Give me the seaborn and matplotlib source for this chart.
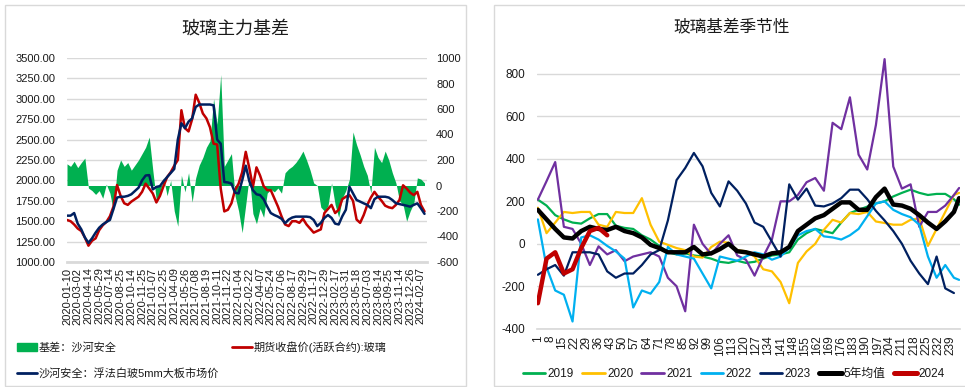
import numpy as np
import pandas as pd
import seaborn as sns
import matplotlib.pyplot as plt
from matplotlib.patches import Patch, Rectangle
from matplotlib.lines import Line2D

## data: left chart (glass main basis), one value every 10 trading days
day_idx = np.arange(0, 1001, 10)

date_labels = ['2020-01-10', '2020-03-02', '2020-04-14', '2020-05-29', '2020-07-14',
               '2020-08-25', '2020-10-14', '2020-11-25', '2021-01-07', '2021-02-25',
               '2021-04-09', '2021-05-26', '2021-07-08', '2021-08-19', '2021-10-11',
               '2021-11-22', '2022-01-04', '2022-02-22', '2022-04-07', '2022-05-24',
               '2022-07-06', '2022-08-17', '2022-09-29', '2022-11-17', '2022-12-29',
               '2023-02-17', '2023-03-31', '2023-05-18', '2023-07-03', '2023-08-14',
               '2023-09-25', '2023-11-14', '2023-12-26', '2024-02-07']
date_pos = np.arange(0, 991, 30)

spot_price = [1568, 1568, 1600, 1470, 1400, 1300, 1235, 1290, 1360, 1420,
              1460, 1490, 1515, 1650, 1790, 1800, 1800, 1810, 1830, 1870,
              1910, 2000, 2060, 2065, 1890, 1920, 1930, 1990, 2040, 2090,
              2140, 2500, 2700, 2640, 2720, 2760, 2900, 2930, 2930, 2930,
              2930, 2920, 2500, 2450, 1980, 1975, 1960, 1850, 1840, 2000,
              2180, 1990, 1880, 1830, 1820, 1770, 1680, 1600, 1575, 1556,
              1530, 1475, 1520, 1545, 1556, 1556, 1556, 1556, 1550, 1515,
              1440, 1480, 1540, 1576, 1540, 1470, 1460, 1560, 1640, 1923,
              1841, 1760, 1740, 1719, 1700, 1660, 1770, 1800, 1800, 1800,
              1790, 1760, 1720, 1710, 1700, 1690, 1678, 1700, 1719, 1658,
              1590]

futures_price = [1515, 1500, 1460, 1410, 1380, 1300, 1200, 1260, 1290, 1390,
                 1450, 1490, 1560, 1680, 1943, 1810, 1720, 1700, 1740, 1770,
                 1800, 1860, 1960, 1900, 1840, 1730, 1810, 1930, 2040, 2100,
                 2180, 2250, 2860, 2640, 2600, 2750, 3050, 2950, 2820, 2760,
                 2650, 2450, 2440, 1900, 1620, 1640, 1720, 1880, 1960, 2100,
                 2350, 2150, 1920, 2160, 2060, 1930, 1880, 1880, 1780, 1680,
                 1560, 1460, 1440, 1500, 1500, 1480, 1530, 1460, 1410, 1360,
                 1380, 1400, 1600, 1650, 1700, 1600, 1640, 1770, 1800, 1820,
                 1750, 1520, 1480, 1576, 1700, 1790, 1860, 1800, 1750, 1690,
                 1670, 1660, 1700, 1760, 1940, 1900, 1850, 1820, 1860, 1700,
                 1620]

basis = [170, 150, 190, 140, 180, 215, -20, -40, -70, -40,
         -100, 10, -60, -200, 120, 200, 150, 180, 120, 160,
         200, 250, 300, 380, 120, -120, -60, 60, -80, 40,
         -200, -320, 80, -50, 100, -130, 60, 160, 220, 300,
         350, 680, 480, 870, 150, 200, 250, -80, -200, -370,
         -150, 80, -220, -300, -180, -250, -60, -30, -50, -20,
         -60, 100, 130, 150, 180, 220, 270, 200, 120, 20,
         0, -170, -200, -160, 20, -150, -250, -100, -40, 50,
         420, 320, 240, 150, 80, -60, 300, 220, 180, 270,
         200, 100, 20, -120, -150, -280, -200, -140, 60, 50,
         20]

## data: right chart (basis seasonality), one value every 5 days
days = list(range(1, 242, 5)) + [244]
nan = np.nan

s2019 = [208, 180, 135, 115, 100, 95, 120, 140, 140, 85,
         75, 70, 40, 20, -10, -40, -50, -45, -55, -60,
         -70, -85, -90, -80, -90, -85, -70, -55, -50, -40,
         20, 50, 70, 60, 50, 100, 145, 160, 175, 190,
         200, 223, 240, 255, 240, 230, 235, 235, 210, 184]
s2020 = [170, 50, 100, 150, 145, 150, 150, 90, 80, 150,
         145, 145, 215, 90, 10, -5, -20, -30, -60, -65,
         -15, 10, 5, -30, -35, -60, -120, -130, -180, -280,
         -90, -36, 0, 66, 113, 100, 145, 140, 150, 105,
         98, 90, 90, 113, 120, -10, 70, 150, 230, 240]
s2021 = [208, 295, 385, 80, 70, 0, -100, -12, -50, -30,
         -82, -60, -50, -40, -60, -160, -200, -318, 90, 0,
         -50, 0, 40, -55, -75, -150, -60, 20, 200, 200,
         230, 290, 310, 250, 570, 540, 690, 420, 350, 560,
         870, 364, 260, 280, 80, 150, 150, 180, 230, 263]
s2022 = [115, -110, -220, -240, -366, 30, 40, 20, -10, -36,
         -70, -300, -220, -235, -180, -15, -50, -60, -70, -140,
         -210, -60, -70, -80, -60, -40, -50, -75, -60, -20,
         40, 60, 70, 35, 30, 20, 40, 70, 130, 190,
         200, 160, 140, 125, 90, -60, -160, -100, -160, -170]
s2023 = [-146, -120, -100, -150, -40, -40, -40, -50, -130, -160,
         -140, -140, -100, -50, -30, 110, 300, 357, 428, 365,
         240, 176, 294, 250, 190, 100, 80, 10, -60, 280,
         208, 260, 180, 176, 190, 215, 255, 255, 210, 155,
         110, 60, 0, -80, -140, -190, -60, -210, -232, nan]
s5yr = [160, 115, 70, 30, 25, 60, 80, 70, 65, 80,
        60, 50, 30, -5, -20, -40, -40, -40, -15, -50,
        -45, -25, 0, -35, -40, -50, -60, -45, -40, -15,
        60, 90, 120, 135, 165, 195, 195, 160, 160, 220,
        260, 185, 180, 165, 135, 100, 70, 106, 150, 215]
s2024 = [-280, -70, -40, -140, -120, -20, 60, 75, 40] + [nan] * 41

season_names = ['2019', '2020', '2021', '2022', '2023', '5年均值', '2024']
season_values = [s2019, s2020, s2021, s2022, s2023, s5yr, s2024]
season_colors = ['#00B050', '#FFC000', '#7030A0', '#00B0F0', '#002060', '#000000', '#C00000']
season_widths = [1.6, 1.6, 1.6, 1.6, 1.6, 3.2, 3.2]

## style
sns.set_theme(style='white')
plt.rcParams['font.family'] = ['Liberation Sans', 'Noto Sans CJK SC', 'DejaVu Sans']
plt.rcParams['axes.unicode_minus'] = False
grid_col = '#D9D9D9'
txt_col = '#1a1a1a'

W, H = 965, 387
fig = plt.figure(figsize=(W / 100, H / 100), dpi=100)


def box(x0, y0, x1, y1):
    # pixel box -> figure fraction
    return [x0 / W, 1 - y1 / H, (x1 - x0) / W, (y1 - y0) / H]


# panel frames
fig.add_artist(Rectangle((5 / W, 1 - 386 / H), 461 / W, 381 / H, transform=fig.transFigure,
                         fill=False, edgecolor=grid_col, lw=1))
fig.add_artist(Rectangle((494 / W, 1 - 386 / H), 480 / W, 381 / H, transform=fig.transFigure,
                         fill=False, edgecolor=grid_col, lw=1))

## left chart
ax = fig.add_axes(box(67, 58, 427, 262))
ax.set_ylim(1000, 3500)
ax.set_yticks(np.arange(1000, 3501, 250))
ax.set_yticklabels([f'{v:.2f}' for v in np.arange(1000, 3501, 250)])
ax.grid(axis='y', color=grid_col, lw=1)
ax.grid(axis='x', visible=False)

# basis area on the right-hand axis
ax2 = ax.twinx()
ax2.fill_between(day_idx, basis, 0, color='#00B050', lw=0)
ax2.set_ylim(-600, 1000)
ax2.set_yticks(np.arange(-600, 1001, 200))
ax2.grid(False)

# price lines on top of the area
ax3 = ax.twinx()
sns.lineplot(x=day_idx, y=futures_price, ax=ax3, color='#C00000', lw=1.8)
sns.lineplot(x=day_idx, y=spot_price, ax=ax3, color='#002060', lw=1.8)
ax3.set_ylim(1000, 3500)
ax3.set_yticks([])
ax3.set_ylabel('')
ax3.grid(False)

ax.set_xlim(0, 1007)
ax.set_xticks(date_pos)
ax.set_xticklabels(date_labels, rotation=90, fontsize=8, color=txt_col)
ax.tick_params(axis='x', length=0, pad=4)
ax.tick_params(axis='y', length=0, pad=8.5, labelsize=8, labelcolor=txt_col)
ax2.tick_params(axis='y', length=0, pad=6.5, labelsize=8, labelcolor=txt_col)
for a in (ax, ax2, ax3):
    for s in a.spines.values():
        s.set_visible(False)
ax.spines['bottom'].set_visible(True)
ax.spines['bottom'].set_color(grid_col)
ax.spines['bottom'].set_linewidth(2)

fig.text(235 / W, 1 - 29 / H, '玻璃主力基差', ha='center', va='center', fontsize=13, color=txt_col)

left_handles = [Patch(color='#00B050'),
                Line2D([], [], color='#002060', lw=2),
                Line2D([], [], color='#C00000', lw=2)]
left_labels = ['基差：沙河安全', '沙河安全：浮法白玻5mm大板市场价', '期货收盘价(活跃合约):玻璃']
fig.legend(left_handles, left_labels, loc='upper left', bbox_to_anchor=(17 / W, 1 - 341 / H),
           ncol=2, frameon=False, fontsize=8, handlelength=1.8, handletextpad=0.15,
           columnspacing=1.2, labelspacing=1.35, borderpad=0, borderaxespad=0,
           labelcolor=txt_col)

## right chart
axr = fig.add_axes(box(537, 52.75, 960, 328.7))
for name, vals, col, w in zip(season_names, season_values, season_colors, season_widths):
    sns.lineplot(x=days, y=vals, ax=axr, color=col, lw=w)
axr.set_ylim(-400, 900)
axr.set_yticks(np.arange(-400, 801, 200))
axr.set_xlim(0.5, 244.5)
axr.set_xticks(np.arange(1, 240, 7))
axr.set_xticklabels([str(v) for v in np.arange(1, 240, 7)], rotation=90, fontsize=8.5, color=txt_col)
axr.grid(axis='y', color=grid_col, lw=1)
axr.grid(axis='x', visible=False)
axr.tick_params(axis='x', length=0, pad=5)
axr.tick_params(axis='y', length=0, pad=8.5, labelsize=8.5, labelcolor=txt_col)
for s in axr.spines.values():
    s.set_visible(False)
axr.spines['bottom'].set_visible(True)
axr.spines['bottom'].set_color(grid_col)

fig.text(732 / W, 1 - 26 / H, '玻璃基差季节性', ha='center', va='center', fontsize=12, color=txt_col)

right_handles = [Line2D([], [], color=c, lw=w + 0.4) for c, w in zip(season_colors, season_widths)]
fig.legend(right_handles, season_names, loc='center', bbox_to_anchor=(734 / W, 1 - 374 / H),
           ncol=7, frameon=False, fontsize=8.5, handlelength=1.9, handletextpad=0.2,
           columnspacing=0.7, borderpad=0, labelcolor=txt_col)

fig.savefig('out.png', dpi=100)
